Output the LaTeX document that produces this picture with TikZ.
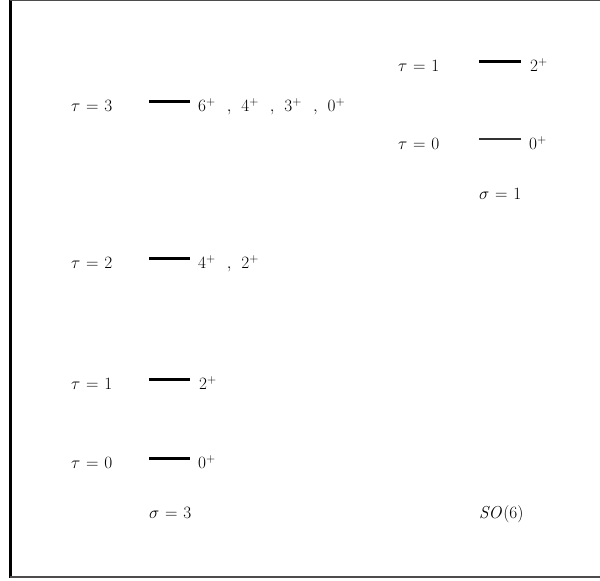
\documentclass[tikz,border=0pt]{standalone}
\begin{document}
\begin{tikzpicture}[x=1pt,y=-1pt,
  lab/.style={font=\fontsize{18}{21}\selectfont, inner sep=0pt, anchor=base west},
  lev/.style={line width=3pt},
  thinlev/.style={line width=1.3pt, black!80}]
\useasboundingbox (0,0) rectangle (600,581);
% frame
\draw[line width=3pt] (10.5,0) -- (10.5,578);
\draw[line width=1.2pt, black!70] (10,0.6) -- (600,0.6);
\draw[line width=2pt, black!70] (10,577) -- (600,577);
\newcommand{\eqsp}{\mskip 6mu}
\newcommand{\cm}{\hspace{11pt},\hspace{7pt}}
% left column (sigma = 3)
\node[lab] (t3) at (71,111.5) {$\tau\eqsp{=}\eqsp 3$};
\draw[lev] (149,101) -- (190,101);
\node[lab] (s3) at (198,111.5) {$6^+\cm 4^+\cm 3^+\cm 0^+$};
\node[lab] (t2) at (71,268.5) {$\tau\eqsp{=}\eqsp 2$};
\draw[lev] (149,258) -- (190,258);
\node[lab] (s2) at (198,268.5) {$4^+\cm 2^+$};
\node[lab] (t1) at (71,389.5) {$\tau\eqsp{=}\eqsp 1$};
\draw[lev] (149,379) -- (190,379);
\node[lab] (s1) at (199,389.5) {$2^+$};
\node[lab] (t0) at (71,468.5) {$\tau\eqsp{=}\eqsp 0$};
\draw[lev] (149,458) -- (190,458);
\node[lab] (s0) at (198,468.5) {$0^+$};
\node[lab] (sig3) at (149,518) {$\sigma\eqsp{=}\eqsp 3$};
% right column (sigma = 1)
\node[lab] (rt1) at (398,71.5) {$\tau\eqsp{=}\eqsp 1$};
\draw[lev] (479,61) -- (521,61);
\node[lab] (rs1) at (530,71.5) {$2^+$};
\node[lab] (rt0) at (398,149.5) {$\tau\eqsp{=}\eqsp 0$};
\draw[thinlev] (479,139) -- (521,139);
\node[lab] (rs0) at (529,149.5) {$0^+$};
\node[lab] (sig1) at (479,199) {$\sigma\eqsp{=}\eqsp 1$};
\node[lab] (so6) at (479,518) {$\mathit{SO}(6)$};
\end{tikzpicture}
\end{document}
